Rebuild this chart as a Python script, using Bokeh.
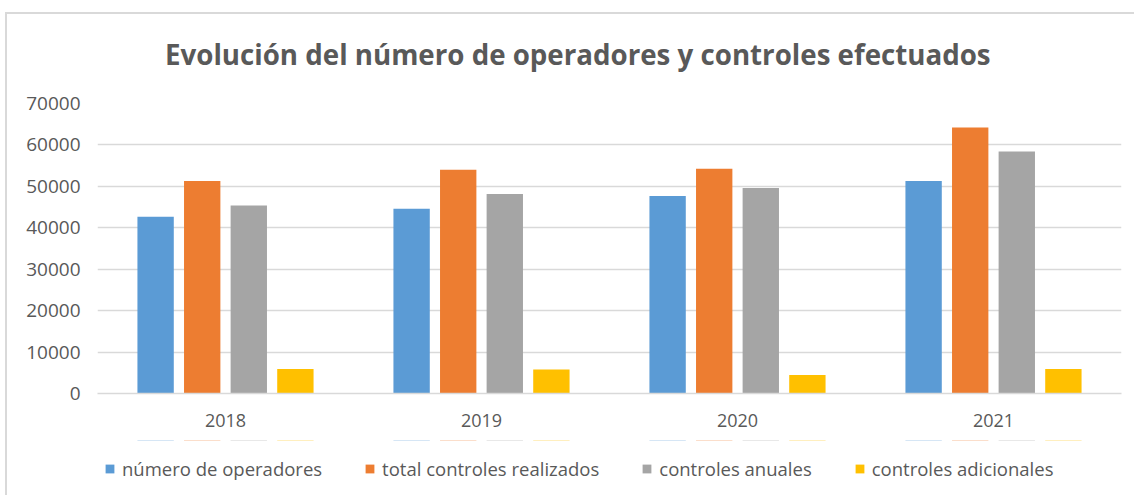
from bokeh.plotting import figure
from bokeh.models import ColumnDataSource, Range1d, FactorRange, Legend, LegendItem, Div
from bokeh.layouts import column
from bokeh.transform import dodge
from bokeh.embed import file_html
from bokeh.resources import INLINE

years = ["2018", "2019", "2020", "2021"]
operadores = [42650, 44580, 47650, 51270]
total_controles = [51270, 54000, 54240, 64210]
controles_anuales = [45380, 48130, 49580, 58410]
controles_adicionales = [5890, 5790, 4440, 5890]
series_names = ["número de operadores", "total controles realizados",
                "controles anuales", "controles adicionales"]
title_text = "Evolución del número de operadores y controles efectuados"
y_ticks = [0, 10000, 20000, 30000, 40000, 50000, 60000, 70000]

colors = ["#5B9BD5", "#ED7D31", "#A5A5A5", "#FFC000"]
FONT = "Open Sans"
TXT = "#595959"
BORDER = "2px solid #d9d9d9"

src = ColumnDataSource(dict(years=years, s0=operadores, s1=total_controles,
                            s2=controles_anuales, s3=controles_adicionales))
xr = FactorRange(*years)
offsets = [-0.273, -0.091, 0.091, 0.273]

# title strip
title_div = Div(
    text=('<div style="padding-top:26px; padding-left:158px; line-height:28px; '
          'white-space:nowrap; font-family:\'Open Sans\'; font-size:27.7px; '
          'font-weight:bold; color:%s;">%s</div>') % (TXT, title_text),
    width=1129, height=76, margin=(12, 0, 0, 5),
    styles={"border-top": BORDER, "border-left": BORDER, "background-color": "white"})

# main chart
p = figure(width=1129, height=352, x_range=xr, y_range=Range1d(0, 70000),
           output_backend="svg", toolbar_location=None,
           min_border_left=90, min_border_right=15, min_border_top=15, min_border_bottom=47,
           margin=(0, 0, 0, 5))
p.styles = {"border-left": BORDER}
p.outline_line_color = None
p.background_fill_color = "white"
p.border_fill_color = "white"

for i, off in enumerate(offsets):
    p.vbar(x=dodge("years", off, range=xr), top="s%d" % i, width=0.142,
           source=src, fill_color=colors[i], line_color=None)

p.xgrid.grid_line_color = None
p.ygrid.grid_line_color = "#d9d9d9"
p.ygrid.grid_line_width = 1.5
p.yaxis.ticker = y_ticks
p.yaxis.axis_line_color = None
p.yaxis.major_tick_line_color = None
p.yaxis.minor_tick_line_color = None
p.yaxis.major_tick_out = 0
p.yaxis.major_label_standoff = 17
p.yaxis.major_label_text_font = FONT
p.yaxis.major_label_text_font_size = "19px"
p.yaxis.major_label_text_color = TXT

p.xaxis.axis_line_color = "#d9d9d9"
p.xaxis.axis_line_width = 1.5
p.xaxis.major_tick_line_color = None
p.xaxis.major_tick_out = 0
p.xaxis.major_label_standoff = 20
p.xaxis.major_label_text_font = FONT
p.xaxis.major_label_text_font_size = "18px"
p.xaxis.major_label_text_color = TXT

# legend strip (bars lie far outside its view; only the legend swatches show)
q = figure(width=1129, height=55, x_range=xr, y_range=Range1d(-200000, -100000),
           output_backend="svg", toolbar_location=None,
           min_border_left=0, min_border_right=0, min_border_top=0, min_border_bottom=0,
           margin=(0, 0, 0, 5))
q.styles = {"border-left": BORDER}
q.outline_line_color = None
q.axis.visible = False
q.grid.visible = False
q.border_fill_color = "white"
rs = []
for i, off in enumerate(offsets):
    rs.append(q.vbar(x=dodge("years", off, range=xr), top="s%d" % i, width=0.142,
                     source=src, fill_color=colors[i], line_color=None))

legend = Legend(items=[LegendItem(label=series_names[i], renderers=[rs[i]]) for i in range(4)],
                orientation="horizontal", location=(7, 14),
                glyph_width=11, glyph_height=11, label_standoff=7, spacing=42,
                padding=0, margin=0, border_line_color=None, background_fill_alpha=0,
                label_text_font=FONT, label_text_font_size="18.5px", label_text_color=TXT,
                label_height=20)
q.add_layout(legend, "center")

layout = column(title_div, p, q, spacing=0)
open("out.html", "w").write(file_html(layout, INLINE))
